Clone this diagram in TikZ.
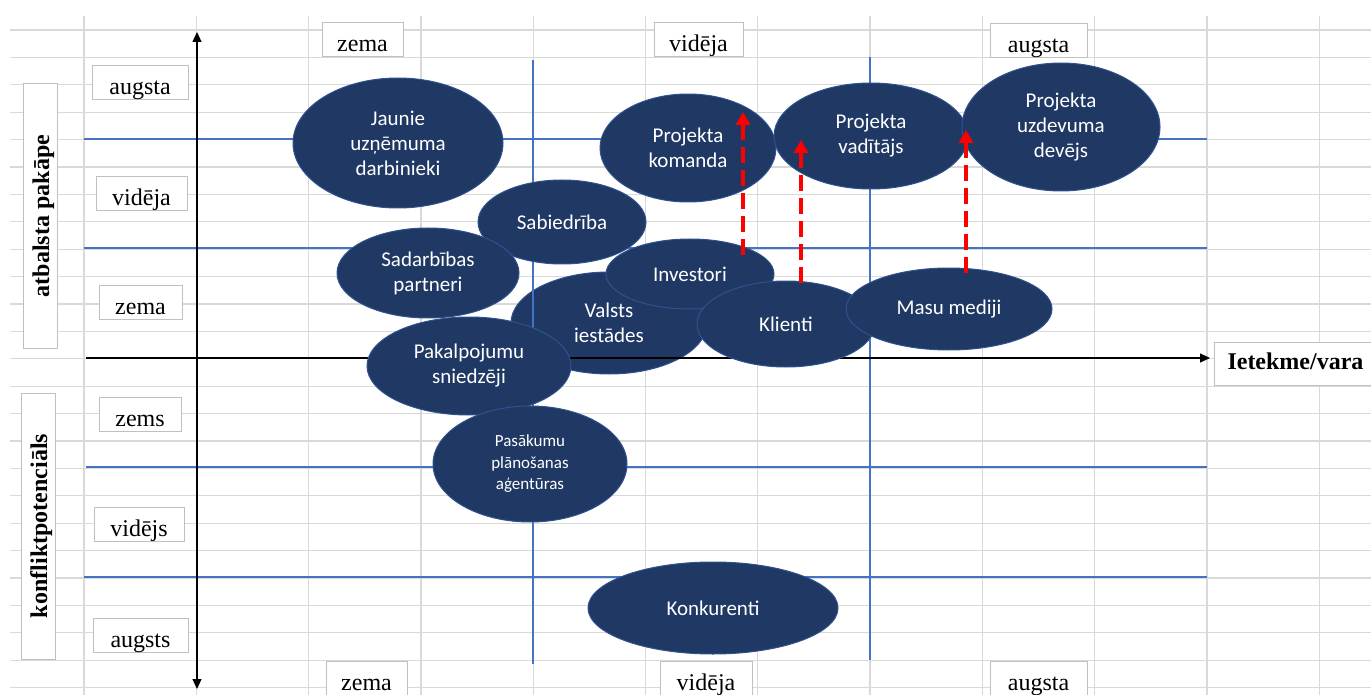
\documentclass[tikz,border=0pt]{standalone}
\usepackage{fontspec}
\setmainfont{Liberation Serif}
\newfontfamily\calibri{Carlito}
\usetikzlibrary{shapes.geometric,arrows.meta}
\definecolor{navy}{HTML}{203864}
\definecolor{navyline}{HTML}{2F528F}
\definecolor{gridgray}{HTML}{D9D9D9}
\definecolor{lineblue}{HTML}{4472C4}
\definecolor{boxgray}{HTML}{C0C0C0}
\begin{document}
\begin{tikzpicture}[x=1pt, y=-1pt,
    gridline/.style={draw=gridgray, line width=1.3pt},
    blueline/.style={draw=lineblue, line width=1.3pt},
    axis/.style={line width=1.2pt},
    lbl/.style={draw=boxgray, fill=white, line width=1pt, inner sep=0pt,
        font=\fontsize{24}{28}\selectfont, text height=29pt, text depth=5pt},
    sidelbl/.style={lbl, rotate=90, font=\bfseries\fontsize{24}{28}\selectfont,
        text height=26pt, text depth=8pt},
    stake/.style={ellipse, fill=navy, draw=navyline, line width=1pt, text=white,
        inner sep=0pt, align=center, font=\calibri\fontsize{21}{25}\selectfont},
    redarr/.style={red, line width=4pt, dash pattern=on 16pt off 7pt,
        {Triangle[width=14pt,length=13pt]}-}]
    \clip (0,0) rectangle (1371,695);
    \fill[white] (0,0) rectangle (1371,695);

    % tabulas režģis
    \foreach \k in {0,...,24}
        \draw[gridline] (10,{30+27.4*\k}) -- (1371,{30+27.4*\k});
    \foreach \k in {0,...,11}
        \draw[gridline] ({84+112.3*\k},16) -- ({84+112.3*\k},695);

    % Valsts iestādes paliek zem līnijām
    \node[stake, minimum width=196pt, minimum height=102pt] (valsts) at (609,323) {Valsts\\iestādes};

    % zilās līnijas
    \draw[blueline] (84,139) -- (1207,139);
    \draw[blueline] (84,248) -- (1207,248);
    \draw[blueline] (86,467) -- (1207,467);
    \draw[blueline] (84,577) -- (1207,577);
    \draw[blueline] (533,60) -- (533,664);
    \draw[blueline] (870,57) -- (870,660);

    % asis
    \node[lbl, anchor=west, font=\bfseries\fontsize{24}{28}\selectfont,
        text height=27pt, text depth=16pt, inner xsep=13pt] (ietekme) at (1214,363.5) {Ietekme/vara};
    \coordinate (xStart) at (86,358);
    \coordinate (yTop) at (197,32);
    \coordinate (yBot) at (197,689);
    \draw[axis, -{Triangle[width=9pt,length=10pt]}, shorten >=4pt] (xStart) -- (xStart -| ietekme.west);
    \draw[axis, {Triangle[width=9pt,length=10pt]}-{Triangle[width=9pt,length=10pt]}] (yTop) -- (yBot);

    % ieinteresētās puses
    \node[stake, minimum width=168pt, minimum height=84pt] (sabiedriba) at (562,222) {Sabiedrība};
    \node[stake, minimum width=182pt, minimum height=90pt] (sadarbibas) at (428,273) {Sadarbības\\partneri};
    \node[stake, minimum width=210pt, minimum height=130pt] (jaunie) at (398,143) {Jaunie\\uzņēmuma\\darbinieki};
    \node[stake, minimum width=168pt, minimum height=70pt] (investori) at (690,274) {Investori};
    \node[stake, minimum width=178pt, minimum height=86pt] (klienti) at (786,324) {Klienti};
    \node[stake, minimum width=206pt, minimum height=82pt] (masu) at (949,309) {Masu mediji};
    \node[stake, minimum width=204pt, minimum height=98pt] (pakalpojumu) at (469,366) {Pakalpojumu\\sniedzēji};
    \node[stake, minimum width=194pt, minimum height=116pt,
        font=\calibri\fontsize{17}{21.5}\selectfont] (pasakumu) at (530,464) {Pasākumu\\plānošanas\\aģentūras};
    \node[stake, minimum width=176pt, minimum height=108pt] (komanda) at (688,148) {Projekta\\komanda};
    \node[stake, minimum width=194pt, minimum height=106pt] (vaditajs) at (871,136) {Projekta\\vadītājs};
    \node[stake, minimum width=198pt, minimum height=128pt] (devejs) at (1061,127) {Projekta\\uzdevuma\\devējs};
    \node[stake, minimum width=250pt, minimum height=92pt] (konkurenti) at (713,608) {Konkurenti};

    % ietekmes bultas
    \coordinate (k1) at (743,112);
    \coordinate (i1) at (743,260);
    \coordinate (v2) at (801,140);
    \coordinate (k2) at (801,288);
    \coordinate (d3) at (966,130);
    \coordinate (m3) at (966,278);
    \draw[redarr] (k1) -- (i1);
    \draw[redarr] (v2) -- (k2);
    \draw[redarr] (d3) -- (m3);

    % ietekme/vara
    \node[lbl, minimum width=81pt] (hZema) at (362.5,39.5) {zema};
    \node[lbl, minimum width=89pt] (hVideja) at (698.5,39.5) {vidēja};
    \node[lbl, minimum width=97pt] (hAugsta) at (1038.5,40.5) {augsta};
    \node[lbl, minimum width=81pt, text depth=11pt] (bZema) at (366.5,681) {zema};
    \node[lbl, minimum width=92pt, text depth=11pt] (bVideja) at (706,681) {vidēja};
    \node[lbl, minimum width=97pt, text depth=11pt] (bAugsta) at (1038.5,681) {augsta};

    % atbalsta pakāpe
    \node[lbl, minimum width=96pt] (sAugsta) at (140,83) {augsta};
    \node[lbl, minimum width=91pt] (sVideja) at (141.5,194) {vidēja};
    \node[lbl, minimum width=83pt] (sZema) at (140.5,302) {zema};
    \node[sidelbl, minimum width=264pt] (atbalsts) at (40,216) {atbalsta pakāpe};

    % konfliktpotenciāls
    \node[lbl, minimum width=82pt] (kZems) at (140,414) {zems};
    \node[lbl, minimum width=90pt] (kVidejs) at (139,524) {vidējs};
    \node[lbl, minimum width=95pt] (kAugsts) at (140.5,635) {augsts};
    \node[sidelbl, minimum width=266pt] (konflikts) at (38,526) {konfliktpotenciāls};
\end{tikzpicture}
\end{document}
